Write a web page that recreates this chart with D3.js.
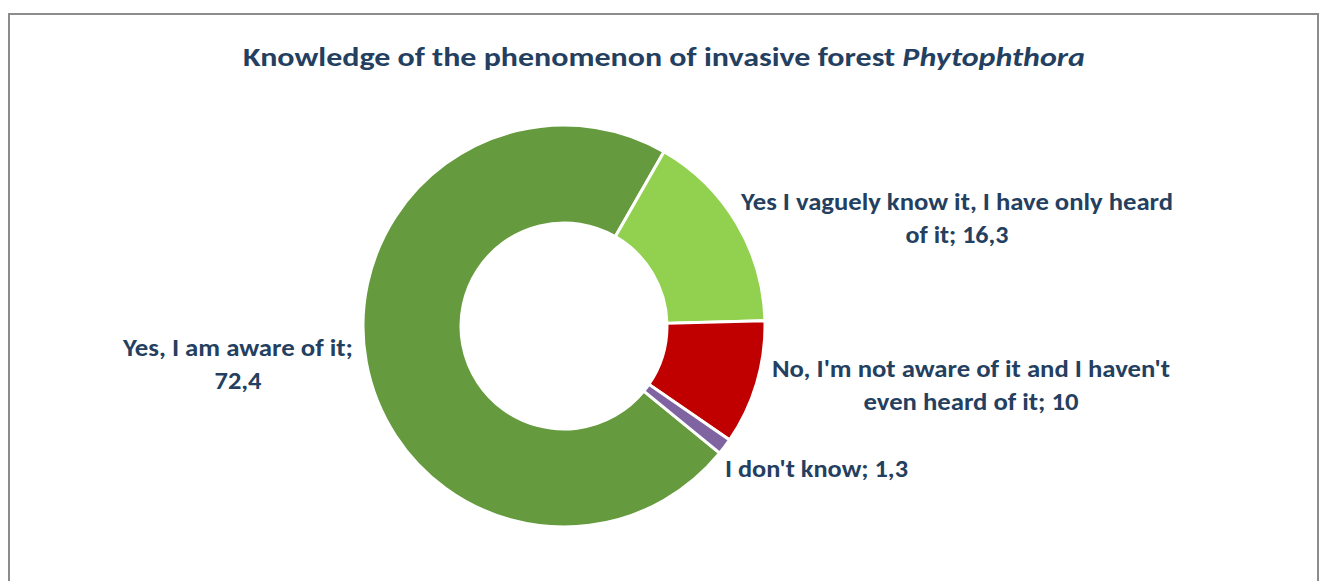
<!DOCTYPE html>
<html>
<head>
<meta charset="utf-8">
<script src="https://cdn.jsdelivr.net/npm/d3@7"></script>
<style>
  html, body { margin: 0; padding: 0; background: #fff; }
  svg { display: block; }
</style>
</head>
<body>
<svg id="chart" width="1319" height="581"></svg>
<script>
// chart data
const categories = [
  'Yes, I am aware of it',
  'Yes I vaguely know it, I have only heard of it',
  "No, I'm not aware of it and I haven't even heard of it",
  "I don't know"
]
const values = [72.4, 16.3, 10, 1.3]
const valueLabels = ['72,4', '16,3', '10', '1,3']
const colors = ['#659b3e', '#92d050', '#c00000', '#8064a2']

const textColor = '#243f60'
const font = "Carlito, Calibri, 'Open Sans', sans-serif"

const svg = d3.select('#chart')

// frame (bottom edge runs off the picture)
svg.append('rect')
  .attr('x', 9).attr('y', 14)
  .attr('width', 1309).attr('height', 620)
  .attr('fill', '#fff')
  .attr('stroke', '#8c8c8c')
  .attr('stroke-width', 2)

// title
const title = svg.append('text')
  .attr('x', 664).attr('y', 66)
  .attr('text-anchor', 'middle')
  .attr('font-family', font)
  .attr('font-weight', 'bold')
  .attr('font-size', 27)
  .attr('fill', textColor)
  .attr('textLength', 842)
  .attr('lengthAdjust', 'spacingAndGlyphs')
title.append('tspan').text('Knowledge of the phenomenon of invasive forest ')
title.append('tspan').attr('font-style', 'italic').text('Phytophthora')

// donut
const cx = 564, cy = 326
const outerR = 201, innerR = 103
const start = 129.2 * Math.PI / 180

const pie = d3.pie().sort(null).value(d => d)
  .startAngle(start).endAngle(start + 2 * Math.PI)
const arc = d3.arc().innerRadius(innerR).outerRadius(outerR)

svg.append('g')
  .attr('transform', `translate(${cx},${cy})`)
  .selectAll('path')
  .data(pie(values))
  .join('path')
  .attr('d', arc)
  .attr('fill', (d, i) => colors[i])
  .attr('stroke', '#fff')
  .attr('stroke-width', 3)
  .attr('stroke-linejoin', 'miter')

// data labels: lines, anchor point, widths
const labelLayout = [
  { lines: ['Yes, I am aware of it;', valueLabels[0]], x: 238, y: 356, anchor: 'middle', widths: [230, 47] },
  { lines: ['Yes I vaguely know it, I have only heard', 'of it; ' + valueLabels[1]], x: 957, y: 210, anchor: 'middle', widths: [432, 103] },
  { lines: ["No, I'm not aware of it and I haven't", 'even heard of it; ' + valueLabels[2]], x: 971, y: 377, anchor: 'middle', widths: [398, 215] },
  { lines: ["I don't know; " + valueLabels[3]], x: 725, y: 477, anchor: 'start', widths: [183] }
]

labelLayout.forEach(l => {
  l.lines.forEach((line, j) => {
    svg.append('text')
      .attr('x', l.x)
      .attr('y', l.y + j * 32.5)
      .attr('text-anchor', l.anchor)
      .attr('font-family', font)
      .attr('font-weight', 'bold')
      .attr('font-size', 24)
      .attr('fill', textColor)
      .attr('textLength', l.widths[j])
      .attr('lengthAdjust', 'spacingAndGlyphs')
      .text(line)
  })
})
</script>
</body>
</html>
